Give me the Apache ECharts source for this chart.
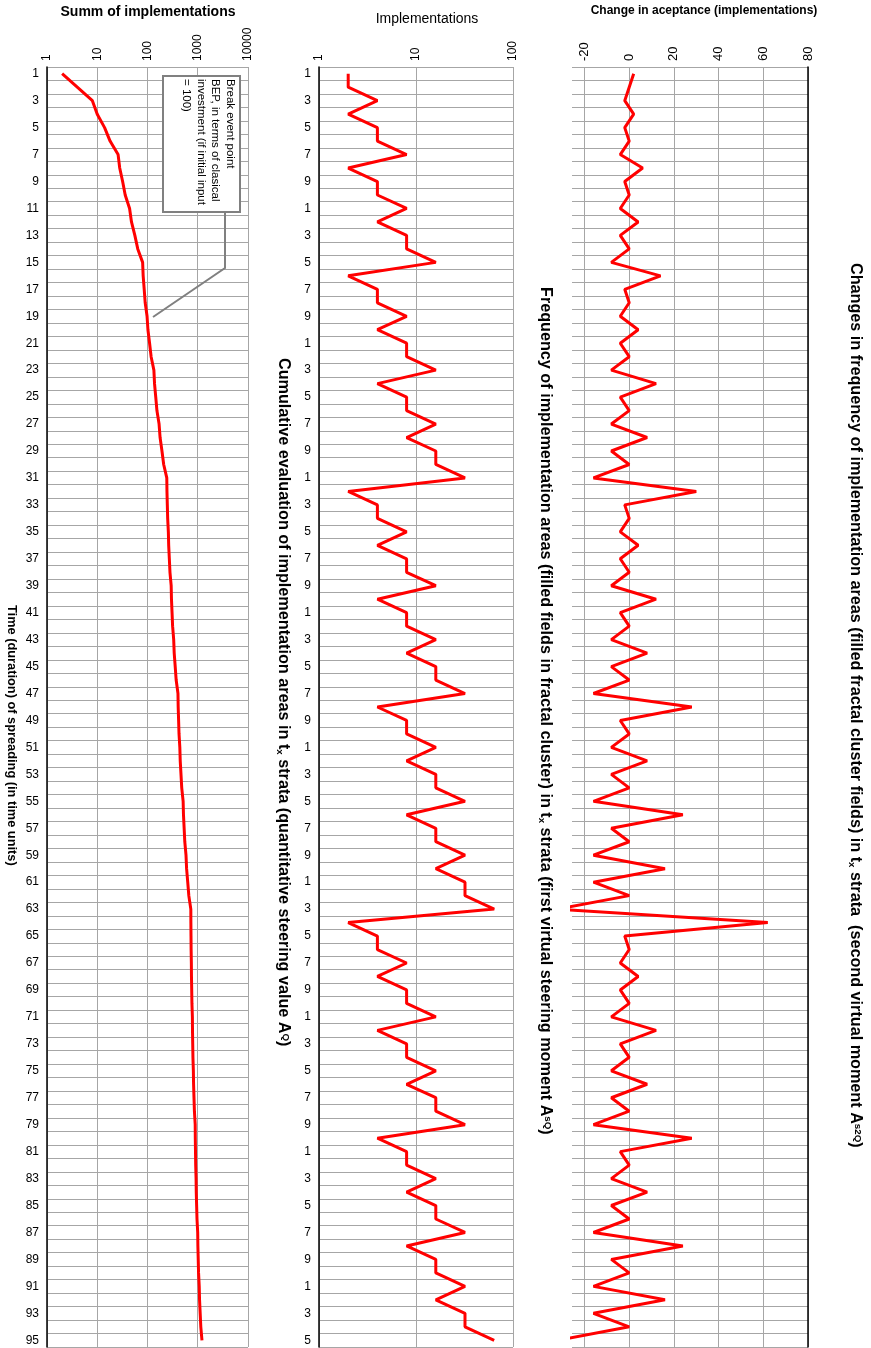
<!DOCTYPE html>
<html>
<head>
<meta charset="utf-8">
<script src="https://cdn.jsdelivr.net/npm/echarts@6/dist/echarts.min.js"></script>
<style>
  html, body { margin: 0; padding: 0; background: #fff; }
  #chart { width: 871px; height: 1348px; }
</style>
</head>
<body>
<div id="chart"></div>
<script>
// time units (rows of the rotated chart)
const timeUnits = [
  '1', '2', '3', '4', '5', '6', '7', '8', '9', '10',
  '11', '12', '13', '14', '15', '16', '17', '18', '19', '20',
  '21', '22', '23', '24', '25', '26', '27', '28', '29', '30',
  '31', '32', '33', '34', '35', '36', '37', '38', '39', '40',
  '41', '42', '43', '44', '45', '46', '47', '48', '49', '50',
  '51', '52', '53', '54', '55', '56', '57', '58', '59', '60',
  '61', '62', '63', '64', '65', '66', '67', '68', '69', '70',
  '71', '72', '73', '74', '75', '76', '77', '78', '79', '80',
  '81', '82', '83', '84', '85', '86', '87', '88', '89', '90',
  '91', '92', '93', '94', '95'
]

// cumulative evaluation (left panel, log scale)
const sumOfImplementations = [
  2, 4, 8, 10, 14, 18, 26, 28, 32, 36,
  44, 48, 56, 64, 80, 82, 86, 90, 98, 102,
  110, 118, 134, 138, 146, 154, 170, 178, 194, 210,
  242, 244, 248, 252, 260, 264, 272, 280, 296, 300,
  308, 316, 332, 340, 356, 372, 404, 408, 416, 424,
  440, 448, 464, 480, 512, 520, 536, 552, 584, 600,
  632, 664, 728, 730, 734, 738, 746, 750, 758, 766,
  782, 786, 794, 802, 818, 826, 842, 858, 890, 894,
  902, 910, 926, 934, 950, 966, 998, 1006, 1022, 1038,
  1070, 1086, 1118, 1150, 1214
]

// frequency of implementation areas (middle panel, log scale)
const implementations = [
  2, 2, 4, 2, 4, 4, 8, 2, 4, 4,
  8, 4, 8, 8, 16, 2, 4, 4, 8, 4,
  8, 8, 16, 4, 8, 8, 16, 8, 16, 16,
  32, 2, 4, 4, 8, 4, 8, 8, 16, 4,
  8, 8, 16, 8, 16, 16, 32, 4, 8, 8,
  16, 8, 16, 16, 32, 8, 16, 16, 32, 16,
  32, 32, 64, 2, 4, 4, 8, 4, 8, 8,
  16, 4, 8, 8, 16, 8, 16, 16, 32, 4,
  8, 8, 16, 8, 16, 16, 32, 8, 16, 16,
  32, 16, 32, 32, 64
]

// change in acceptance (right panel)
const changeInAcceptance = [
  2, 0, -2, 2, -2, 0, -4, 6, -2, 0,
  -4, 4, -4, 0, -8, 14, -2, 0, -4, 4,
  -4, 0, -8, 12, -4, 0, -8, 8, -8, 0,
  -16, 30, -2, 0, -4, 4, -4, 0, -8, 12,
  -4, 0, -8, 8, -8, 0, -16, 28, -4, 0,
  -8, 8, -8, 0, -16, 24, -8, 0, -16, 16,
  -16, 0, -32, 62, -2, 0, -4, 4, -4, 0,
  -8, 12, -4, 0, -8, 8, -8, 0, -16, 28,
  -4, 0, -8, 8, -8, 0, -16, 24, -8, 0,
  -16, 16, -16, 0, -32
]

const font = "'Liberation Sans', Arial, sans-serif"
const gridColor = '#a6a6a6'
const lineRed = '#ff0000'

const chart = echarts.init(document.getElementById('chart'))

function timeAxis(gridIndex, extra) {
  return Object.assign({
    gridIndex,
    type: 'category',
    inverse: true,
    data: timeUnits,
    boundaryGap: true,
    axisLine: { onZero: false, lineStyle: { color: '#000', width: 1.5 } },
    axisTick: { interval: 0, length: 4, lineStyle: { color: '#000' } },
    axisLabel: { interval: 1, fontSize: 12, color: '#000', fontFamily: font, margin: 8 },
    splitLine: { show: true, interval: 0, lineStyle: { color: gridColor } }
  }, extra)
}

function valueAxis(gridIndex, extra) {
  return Object.assign({
    gridIndex,
    position: 'top',
    axisLine: { onZero: false, lineStyle: { color: '#000', width: 2 } },
    axisTick: { show: false },
    splitLine: { lineStyle: { color: gridColor } }
  }, extra)
}

function rotatedText(x, y, text, size, extra) {
  return Object.assign({
    type: 'text',
    x, y,
    rotation: -Math.PI / 2,
    z: 20,
    style: {
      text,
      fill: '#000',
      fontFamily: font,
      fontSize: size,
      fontWeight: 'bold',
      textAlign: 'left',
      textVerticalAlign: 'middle',
      rich: {
        sub: { fontFamily: font, fontSize: size * 0.6, fontWeight: 'bold', verticalAlign: 'bottom', fill: '#000' },
        sup: { fontFamily: font, fontSize: size * 0.6, fontWeight: 'bold', verticalAlign: 'top', fill: '#000' }
      }
    }
  }, extra)
}

const option = {
  animation: false,
  backgroundColor: '#fff',
  grid: [
    { left: 47, top: 67, width: 201, height: 1280 },
    { left: 319, top: 67, width: 194, height: 1280 },
    { left: 572, top: 67, width: 236, height: 1280 }
  ],
  xAxis: [
    valueAxis(0, {
      type: 'log', logBase: 10, min: 1, max: 10000,
      axisLabel: { rotate: -90, fontSize: 12, color: '#000', fontFamily: font, margin: 6, formatter: (v) => String(Math.round(v)) }
    }),
    valueAxis(1, {
      type: 'log', logBase: 10, min: 1, max: 100,
      axisLabel: { rotate: -90, fontSize: 12, color: '#000', fontFamily: font, margin: 6, formatter: (v) => String(Math.round(v)) }
    }),
    valueAxis(2, {
      type: 'value', min: -25.6, max: 80,
      axisLabel: { rotate: -90, fontSize: 13, color: '#000', fontFamily: font, margin: 6, showMinLabel: false },
      splitLine: { showMinLine: false, lineStyle: { color: gridColor } }
    })
  ],
  yAxis: [
    timeAxis(0),
    timeAxis(1, {
      axisLabel: { interval: 1, fontSize: 12, color: '#000', fontFamily: font, margin: 8, formatter: (v) => v.slice(-1) }
    }),
    timeAxis(2, {
      position: 'right',
      axisTick: { show: false },
      axisLabel: { show: false }
    })
  ],
  series: [
    {
      name: 'Summ of implementations',
      type: 'line',
      xAxisIndex: 0, yAxisIndex: 0,
      data: sumOfImplementations,
      symbol: 'none',
      lineStyle: { color: lineRed, width: 3 },
      itemStyle: { color: lineRed }
    },
    {
      name: 'Implementations',
      type: 'line',
      xAxisIndex: 1, yAxisIndex: 1,
      data: implementations,
      symbol: 'none',
      lineStyle: { color: lineRed, width: 3 },
      itemStyle: { color: lineRed }
    },
    {
      name: 'Change in aceptance',
      type: 'line',
      xAxisIndex: 2, yAxisIndex: 2,
      data: changeInAcceptance,
      symbol: 'none',
      lineStyle: { color: lineRed, width: 3 },
      itemStyle: { color: lineRed }
    }
  ],
  graphic: [
    // panel headers
    { type: 'text', x: 148, y: 12, style: { text: 'Summ of implementations', fill: '#000', fontFamily: font, fontSize: 14, fontWeight: 'bold', textAlign: 'center', textVerticalAlign: 'middle' } },
    { type: 'text', x: 427, y: 19, style: { text: 'Implementations', fill: '#000', fontFamily: font, fontSize: 14, textAlign: 'center', textVerticalAlign: 'middle' } },
    { type: 'text', x: 704, y: 11, style: { text: 'Change in aceptance (implementations)', fill: '#000', fontFamily: font, fontSize: 12, fontWeight: 'bold', textAlign: 'center', textVerticalAlign: 'middle' } },

    // rotated chart titles
    rotatedText(283, 358, 'Cumulative evaluation of implementation areas in t{sub|x} strata (quantitative steering value A{sup|Q})', 16.2),
    rotatedText(545, 287, 'Frequency of implementation areas (filled fields in fractal cluster) in t{sub|x} strata (first virtual steering moment A{sup|sQ})', 16.2),
    rotatedText(855, 263, 'Changes in frequency of implementation areas (filled fractal cluster fields) in t{sub|x} strata  (second virtual moment A{sup|s2Q})', 16.2),
    rotatedText(12, 605, 'Time (duration) of spreading (in time units)', 12.8),

    // break even callout
    { type: 'polyline', z: 15, shape: { points: [[225, 212], [225, 268], [153, 317]] }, style: { stroke: '#808080', lineWidth: 2, fill: null } },
    { type: 'rect', z: 16, shape: { x: 163, y: 76, width: 77, height: 136 }, style: { fill: '#fff', stroke: '#808080', lineWidth: 2 } },
    {
      type: 'text', z: 17, x: 237, y: 79, rotation: -Math.PI / 2,
      style: {
        text: 'Break event point\nBEP, in terms of clasical\ninvestment (if initial input\n= 100)',
        fill: '#000', fontFamily: font, fontSize: 11.5, lineHeight: 14.5,
        textAlign: 'left', textVerticalAlign: 'top'
      }
    }
  ]
}

chart.setOption(option)
</script>
</body>
</html>
